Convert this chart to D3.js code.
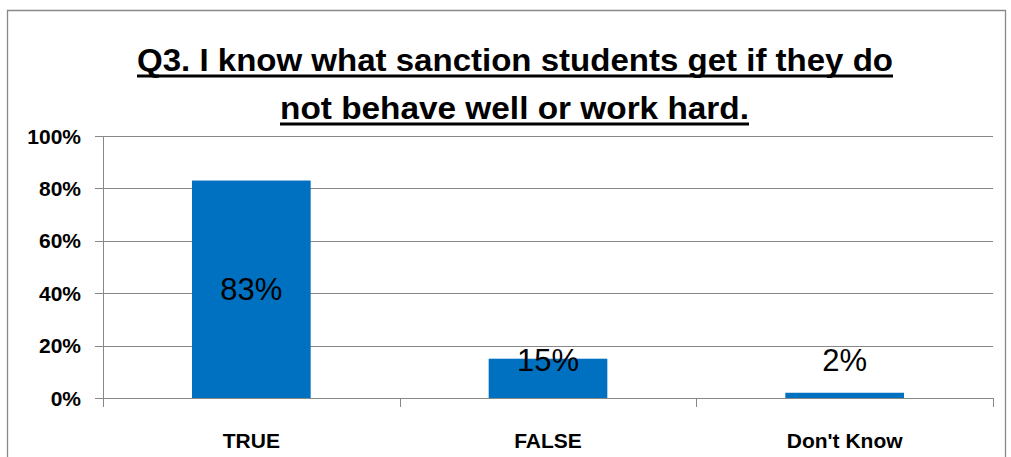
<!DOCTYPE html>
<html><head><meta charset="utf-8">
<script src="https://cdn.jsdelivr.net/npm/d3@7"></script>
<style>body{margin:0;background:#fff;}svg{display:block;}</style>
</head><body>
<svg id="c" width="1011" height="457"></svg>
<script>
const categories = ["TRUE", "FALSE", "Don't Know"];
const values = [0.83, 0.15, 0.02];
const valueLabels = ["83%", "15%", "2%"];
const yTicks = [0, 0.2, 0.4, 0.6, 0.8, 1.0];
const titleLines = ["Q3. I know what sanction students get if they do", "not behave well or work hard."];

const svg = d3.select("#c");
const m = {left:103, right:993, top:136, bottom:398};
const x = d3.scaleBand().domain(categories).range([m.left, m.right]).paddingInner(0.6).paddingOuter(0.3);
const y = d3.scaleLinear().domain([0,1]).range([m.bottom, m.top]);

// outer border
svg.append("path").attr("d", "M7.5,460 V10.5 H1005.5 V460").attr("fill","none").attr("stroke","#898989").attr("stroke-width",1.3);

// title
const titleFont = "'Liberation Sans Narrow','Liberation Sans',Arial,sans-serif";
const tl = [{x0:137,x1:893,base:71,ul:76},{x0:280,x1:749,base:119,ul:124}];
titleLines.forEach((t,i)=>{
  const L = tl[i];
  svg.append("text").attr("x",L.x0).attr("y",L.base).text(t)
    .attr("font-family",titleFont).attr("font-weight","bold").attr("font-size",32)
    .attr("textLength",L.x1-L.x0).attr("lengthAdjust","spacingAndGlyphs").attr("fill","#000");
  svg.append("line").attr("x1",L.x0).attr("x2",L.x1).attr("y1",L.ul).attr("y2",L.ul)
    .attr("stroke","#000").attr("stroke-width",3);
});

// gridlines
svg.append("g").selectAll("line").data(yTicks).join("line")
  .attr("x1",95).attr("x2",m.right).attr("y1",d=>Math.round(y(d))+0.5).attr("y2",d=>Math.round(y(d))+0.5)
  .attr("stroke","#888").attr("stroke-width",1);

// y axis line
svg.append("line").attr("x1",m.left+0.5).attr("x2",m.left+0.5).attr("y1",m.top).attr("y2",m.bottom).attr("stroke","#888");

// y labels
svg.append("g").selectAll("text").data(yTicks).join("text")
  .attr("x",81).attr("y",d=>y(d)).attr("dy","0.36em").attr("text-anchor","end")
  .attr("font-family","'Liberation Sans',Arial,sans-serif").attr("font-weight","bold").attr("font-size",21)
  .text(d=>d3.format(".0%")(d));

// x category ticks
const bounds = [m.left, ...categories.map(c=>x(c)-x.step()*x.paddingInner()/2+x.step())];
svg.append("g").selectAll("line").data(bounds).join("line")
  .attr("x1",d=>Math.round(d)+0.5).attr("x2",d=>Math.round(d)+0.5).attr("y1",m.bottom).attr("y2",m.bottom+9)
  .attr("stroke","#888");

// bars
svg.append("g").selectAll("rect").data(values).join("rect")
  .attr("x",(d,i)=>x(categories[i])).attr("width",x.bandwidth())
  .attr("y",d=>y(d)).attr("height",d=>y(0)-y(d)).attr("fill","#0070C0");

// value labels
svg.append("g").selectAll("text").data(values).join("text")
  .attr("x",(d,i)=>x(categories[i])+x.bandwidth()/2)
  .attr("y",d=>Math.min((y(d)+y(0))/2, y(0.145)))
  .attr("dy","0.36em").attr("text-anchor","middle")
  .attr("font-family","'Liberation Sans',Arial,sans-serif").attr("font-size",31).attr("fill","#000")
  .text((d,i)=>valueLabels[i]);

// x labels
svg.append("g").selectAll("text").data(categories).join("text")
  .attr("x",d=>x(d)+x.bandwidth()/2).attr("y",440).attr("dy","0.36em").attr("text-anchor","middle")
  .attr("font-family","'Liberation Sans',Arial,sans-serif").attr("font-weight","bold").attr("font-size",21)
  .text(d=>d);
</script>
</body></html>
